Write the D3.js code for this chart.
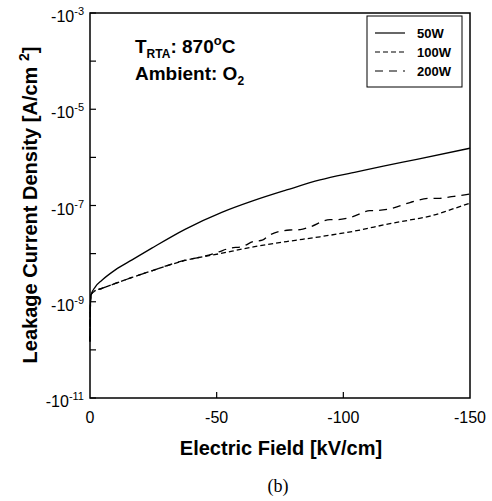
<!DOCTYPE html>
<html>
<head>
<meta charset="utf-8">
<script src="https://cdn.jsdelivr.net/npm/d3@7"></script>
<style>
  body { margin: 0; background: #fff; }
  svg { display: block; font-family: "Liberation Sans", Arial, sans-serif; }
</style>
</head>
<body>
<svg width="492" height="501"></svg>
<script>
// field in kV/cm, current density in A/cm^2 (negative bias)
var field50 = [0, -0.1, -0.4, -2.1, -4.7, -10, -16.6, -24.4, -37.5, -52, -64.5, -77.6, -90.8, -105.3, -115.8, -129, -150];
var j50 = [-1.5e-10, -6.3e-10, -1.38e-9, -2.04e-9, -2.8e-9, -4.6e-9, -7.4e-9, -1.3e-8, -3.2e-8, -7.2e-8, -1.26e-7, -2.1e-7, -3.4e-7, -5.0e-7, -6.6e-7, -9.1e-7, -1.55e-6];

var field100 = [0, -0.1, -0.4, -1.5, -4.7, -10, -16.6, -24.4, -37.5, -51.3, -64.5, -77.6, -90.8, -105.3, -118.4, -126.3, -134.2, -142.1, -150];
var j100 = [-1.5e-10, -6.3e-10, -1.38e-9, -1.62e-9, -1.9e-9, -2.4e-9, -3.2e-9, -4.4e-9, -7.2e-9, -1.0e-8, -1.38e-8, -1.78e-8, -2.24e-8, -3.0e-8, -4.2e-8, -5.0e-8, -6.0e-8, -8.1e-8, -1.12e-7];

var field200 = [0, -0.1, -0.4, -1.5, -4.7, -10, -16.6, -24.4, -37.5, -45, -50, -55.3, -60, -64.5, -68, -71, -78.9, -83, -86.9, -94.7, -98, -102.6, -110.5, -114, -118.4, -126.3, -134.2, -138, -142.1, -146, -150];
var j200 = [-1.5e-10, -6.3e-10, -1.38e-9, -1.62e-9, -1.9e-9, -2.4e-9, -3.2e-9, -4.4e-9, -7.3e-9, -8.8e-9, -1.05e-8, -1.3e-8, -1.4e-8, -1.78e-8, -1.9e-8, -2.45e-8, -3.1e-8, -3.15e-8, -3.6e-8, -5.1e-8, -5.1e-8, -5.6e-8, -7.8e-8, -7.9e-8, -8.5e-8, -1.15e-7, -1.41e-7, -1.41e-7, -1.51e-7, -1.6e-7, -1.74e-7];

var xTicks = [0, -50, -100, -150];
var yMajor = [-3, -5, -7, -9, -11];
var yMinor = [-4, -6, -8, -10];

var legendNames = ["50W", "100W", "200W"];
var dashes = [null, "5,3", "8,6"];

var svg = d3.select("svg"),
  plotL = 90, plotR = 470, plotT = 13, plotB = 398;

svg.append("rect").attr("width", 492).attr("height", 501).attr("fill", "#fff");

var x = d3.scaleLinear().domain([0, -150]).range([plotL, plotR]);
var y = d3.scaleLog().domain([1e-11, 1e-3]).range([plotB, plotT]);

// frame
svg.append("rect")
  .attr("x", plotL).attr("y", plotT)
  .attr("width", plotR - plotL).attr("height", plotB - plotT)
  .attr("fill", "none").attr("stroke", "#000").attr("stroke-width", 1.5);

// y ticks (inside)
svg.selectAll(".ytick")
  .data(yMajor.concat(yMinor))
  .enter().append("line")
  .attr("x1", plotL).attr("x2", plotL + 6)
  .attr("y1", function (d) { return y(Math.pow(10, d)); })
  .attr("y2", function (d) { return y(Math.pow(10, d)); })
  .attr("stroke", "#000").attr("stroke-width", 1.2);

var ylab = svg.selectAll(".ylab")
  .data(yMajor)
  .enter().append("text")
  .attr("x", 84)
  .attr("y", function (d) { return y(Math.pow(10, d)) + 9; })
  .attr("text-anchor", "end")
  .style("font-size", "16px");
ylab.append("tspan").text("-10");
ylab.append("tspan").attr("dy", -7).style("font-size", "11px")
  .text(function (d) { return "-" + Math.abs(d); });

// x ticks
svg.selectAll(".xtick")
  .data(xTicks.slice(1, 3))
  .enter().append("line")
  .attr("x1", function (d) { return x(d); })
  .attr("x2", function (d) { return x(d); })
  .attr("y1", plotB).attr("y2", plotB - 6)
  .attr("stroke", "#000").attr("stroke-width", 1.2);

svg.selectAll(".xlab")
  .data(xTicks)
  .enter().append("text")
  .attr("x", function (d) { return x(d); })
  .attr("y", 423)
  .attr("text-anchor", "middle")
  .style("font-size", "16px")
  .text(function (d) { return d; });

// curves
var line = d3.line()
  .x(function (d) { return x(d[0]); })
  .y(function (d) { return y(Math.abs(d[1])); })
  .curve(d3.curveMonotoneX);

var series = [d3.zip(field50, j50), d3.zip(field100, j100), d3.zip(field200, j200)];

svg.selectAll(".curve")
  .data(series)
  .enter().append("path")
  .attr("d", line)
  .attr("fill", "none")
  .attr("stroke", "#000")
  .attr("stroke-width", 1.3)
  .attr("stroke-dasharray", function (d, i) { return dashes[i]; });

// legend
svg.append("rect")
  .attr("x", 367).attr("y", 16).attr("width", 95).attr("height", 71)
  .attr("fill", "#fff").attr("stroke", "#000").attr("stroke-width", 1);

var leg = svg.selectAll(".leg")
  .data(legendNames)
  .enter().append("g")
  .attr("transform", function (d, i) { return "translate(0," + (33 + i * 19) + ")"; });
leg.append("line")
  .attr("x1", 375).attr("x2", 405)
  .attr("stroke", "#000").attr("stroke-width", 1.2)
  .attr("stroke-dasharray", function (d, i) { return dashes[i]; });
leg.append("text")
  .attr("x", 417).attr("y", 5)
  .style("font-size", "13px").style("font-weight", "bold")
  .text(function (d) { return d; });

// annotation
var t1 = svg.append("text").attr("x", 135).attr("y", 53)
  .style("font-size", "19px").style("font-weight", "bold");
t1.append("tspan").text("T");
t1.append("tspan").attr("dy", 5).style("font-size", "12px").text("RTA");
t1.append("tspan").attr("dy", -5).text(": 870");
t1.append("tspan").attr("dy", -8).style("font-size", "13px").text("o");
t1.append("tspan").attr("dy", 8).text("C");

var t2 = svg.append("text").attr("x", 135).attr("y", 80)
  .style("font-size", "19px").style("font-weight", "bold");
t2.append("tspan").text("Ambient: O");
t2.append("tspan").attr("dy", 5).style("font-size", "12px").text("2");

// axis titles
svg.append("text")
  .attr("x", 281).attr("y", 455)
  .attr("text-anchor", "middle")
  .style("font-size", "20px").style("font-weight", "bold")
  .text("Electric Field [kV/cm]");

var yt = svg.append("text")
  .attr("transform", "translate(37,205) rotate(-90)")
  .attr("text-anchor", "middle")
  .style("font-size", "20px").style("font-weight", "bold");
yt.append("tspan").text("Leakage Current Density [A/cm ");
yt.append("tspan").attr("dy", -8).style("font-size", "14px").text("2");
yt.append("tspan").attr("dy", 8).text("]");

svg.append("text")
  .attr("x", 278).attr("y", 492)
  .attr("text-anchor", "middle")
  .style("font-family", "'Liberation Serif', serif")
  .style("font-size", "18px")
  .text("(b)");
</script>
</body>
</html>
